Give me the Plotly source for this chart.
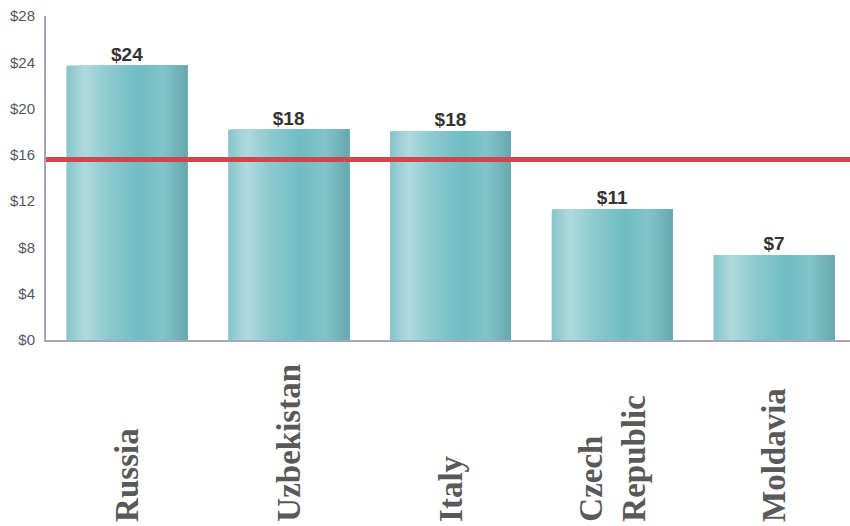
import plotly.graph_objects as go

# data
countries = ["Russia", "Uzbekistan", "Italy", "Czech Republic", "Moldavia"]
label_text = ["Russia", "Uzbekistan", "Italy", "Czech<br>Republic", "Moldavia"]
values = [23.7, 18.2, 18.05, 11.3, 7.35]
value_labels = ["$24", "$18", "$18", "$11", "$7"]
average = 15.6
y_ticks = [0, 4, 8, 12, 16, 20, 24, 28]

# horizontal gradient stops across a bar (fraction, rgb)
stops = [(0.0, (134, 196, 201)), (0.15, (176, 218, 222)), (0.35, (140, 202, 207)),
         (0.6, (111, 189, 195)), (0.8, (130, 196, 201)), (1.0, (102, 168, 174))]


def grad(f):
    for (f0, c0), (f1, c1) in zip(stops[:-1], stops[1:]):
        if f0 <= f <= f1:
            t = (f - f0) / (f1 - f0)
            return "rgb(%d,%d,%d)" % tuple(round(a + (b - a) * t) for a, b in zip(c0, c1))
    return "rgb(%d,%d,%d)" % stops[-1][1]


bar_w = 0.748
n_strips = 40
strip_w = bar_w / n_strips

fig = go.Figure()

# gradient fill: narrower and narrower bars stacked on top, all sharing the right edge
for i in range(n_strips):
    fig.add_trace(go.Bar(
        x=countries, y=values,
        width=bar_w - i * strip_w,
        offset=-bar_w / 2 + i * strip_w,
        marker=dict(color=grad((i + 0.5) / n_strips), line=dict(width=0)),
        hoverinfo="skip", showlegend=False,
    ))

# value labels on top of bars
fig.add_trace(go.Scatter(
    x=countries, y=values, mode="text",
    text=["<b>" + v + "</b>" for v in value_labels], textposition="top center",
    textfont=dict(family="Arial, Liberation Sans", size=19, color="#333333"),
    showlegend=False, hoverinfo="skip", cliponaxis=False,
))

# average line
fig.add_hline(y=average, line=dict(color="#d2454b", width=5), layer="above")

# rotated category labels, bottom aligned
for c, t in zip(countries, label_text):
    fig.add_annotation(
        x=c, y=0, xref="x", yref="paper", yshift=-184,
        text="<b>" + t + "</b>", textangle=-90, showarrow=False,
        xanchor="center", yanchor="bottom", align="left",
        font=dict(family="Liberation Serif, Times New Roman", size=33, color="#595959"),
    )

fig.update_layout(
    width=850, height=526,
    margin=dict(l=46, r=0, t=16, b=186),
    plot_bgcolor="white", paper_bgcolor="white",
    barmode="overlay",
    xaxis=dict(
        range=[-0.5, 4.47], showticklabels=False, ticks="", automargin=False,
        showline=True, linecolor="#a4a4c4", linewidth=2, showgrid=False, zeroline=False,
    ),
    yaxis=dict(
        range=[0, 28], tickvals=y_ticks, ticktext=["$%d" % v for v in y_ticks],
        showline=True, linecolor="#a4a4c4", linewidth=2, showgrid=False, zeroline=False,
        ticks="", ticklabelstandoff=6, automargin=False, ticklabeloverflow="allow",
        tickfont=dict(family="Arial, Liberation Sans", size=15, color="#555566"),
    ),
)

# drop the default page margin so the figure fills the window exactly
fig.write_html("out.html", config={"displayModeBar": False},
               post_script="document.body.style.margin = '0';")
